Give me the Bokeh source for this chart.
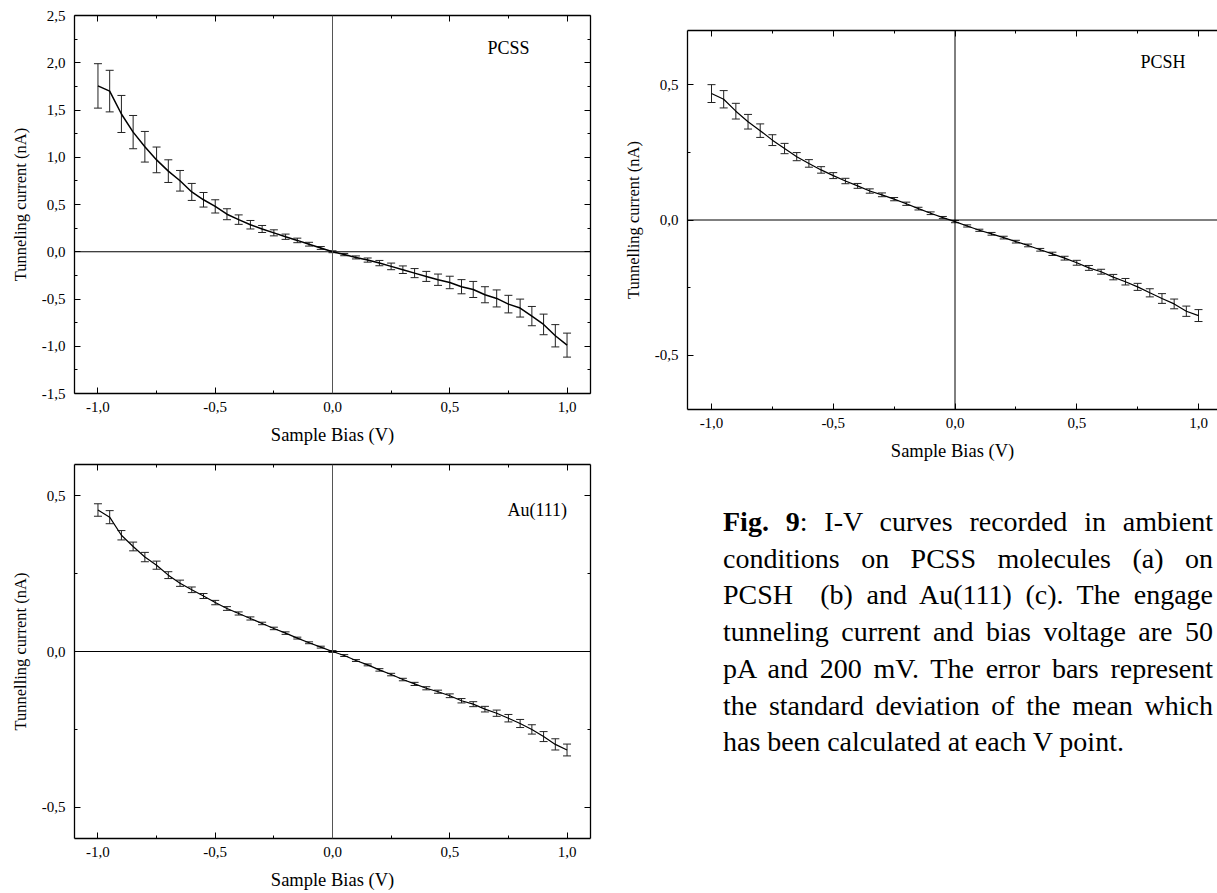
from bokeh.plotting import figure
from bokeh.models import (Range1d, FixedTicker, LinearAxis, Span, Whisker, ColumnDataSource,
                          CustomJSTickFormatter, Label, Div, Spacer, TeeHead)
from bokeh.layouts import column, row
from bokeh.embed import file_html
from bokeh.resources import INLINE

# ---------------- data ----------------
bias = [-1.0, -0.95, -0.9, -0.85, -0.8, -0.75, -0.7, -0.65, -0.6, -0.55, -0.5,
        -0.45, -0.4, -0.35, -0.3, -0.25, -0.2, -0.15, -0.1, -0.05, 0.0,
        0.05, 0.1, 0.15, 0.2, 0.25, 0.3, 0.35, 0.4, 0.45, 0.5,
        0.55, 0.6, 0.65, 0.7, 0.75, 0.8, 0.85, 0.9, 0.95, 1.0]

pcss_current = [1.755, 1.70, 1.458, 1.266, 1.111, 0.972, 0.853, 0.751, 0.633, 0.550, 0.480,
                0.397, 0.340, 0.286, 0.241, 0.200, 0.159, 0.120, 0.080, 0.040, 0.000,
                -0.030, -0.060, -0.088, -0.120, -0.155, -0.190, -0.226, -0.261, -0.296, -0.325,
                -0.370, -0.399, -0.455, -0.494, -0.554, -0.596, -0.681, -0.769, -0.889, -0.988]
pcss_err = [0.235, 0.220, 0.196, 0.176, 0.162, 0.136, 0.120, 0.109, 0.090, 0.077, 0.070,
            0.058, 0.050, 0.045, 0.037, 0.032, 0.028, 0.024, 0.020, 0.015, 0.010,
            0.012, 0.016, 0.022, 0.028, 0.035, 0.040, 0.048, 0.053, 0.060, 0.066,
            0.075, 0.085, 0.085, 0.090, 0.093, 0.095, 0.102, 0.109, 0.118, 0.127]

pcsh_current = [0.467, 0.446, 0.402, 0.363, 0.330, 0.295, 0.264, 0.234, 0.209, 0.185, 0.164,
                0.144, 0.126, 0.107, 0.093, 0.077, 0.060, 0.042, 0.025, 0.009, -0.006,
                -0.022, -0.038, -0.051, -0.065, -0.080, -0.094, -0.110, -0.125, -0.141, -0.158,
                -0.177, -0.191, -0.211, -0.228, -0.247, -0.269, -0.290, -0.310, -0.337, -0.353]
pcsh_err = [0.033, 0.032, 0.029, 0.027, 0.025, 0.020, 0.019, 0.015, 0.014, 0.012, 0.011,
            0.010, 0.009, 0.008, 0.007, 0.006, 0.006, 0.005, 0.005, 0.004, 0.004,
            0.004, 0.004, 0.005, 0.005, 0.005, 0.005, 0.005, 0.006, 0.007, 0.009,
            0.009, 0.009, 0.010, 0.012, 0.013, 0.015, 0.018, 0.018, 0.019, 0.022]

au_current = [0.454, 0.431, 0.373, 0.337, 0.303, 0.277, 0.245, 0.219, 0.198, 0.178, 0.157,
              0.138, 0.122, 0.106, 0.090, 0.074, 0.059, 0.043, 0.028, 0.014, 0.000,
              -0.013, -0.029, -0.043, -0.059, -0.074, -0.090, -0.104, -0.118, -0.129, -0.142,
              -0.158, -0.169, -0.185, -0.198, -0.214, -0.231, -0.250, -0.273, -0.298, -0.316]
au_err = [0.020, 0.021, 0.015, 0.014, 0.015, 0.013, 0.011, 0.010, 0.009, 0.008, 0.007,
          0.006, 0.005, 0.005, 0.004, 0.004, 0.004, 0.003, 0.003, 0.003, 0.003,
          0.003, 0.003, 0.003, 0.004, 0.004, 0.004, 0.005, 0.005, 0.005, 0.006,
          0.007, 0.008, 0.009, 0.010, 0.012, 0.013, 0.015, 0.016, 0.018, 0.019]

x_ticks = [-1.0, -0.5, 0.0, 0.5, 1.0]
x_minor = [-0.75, -0.25, 0.25, 0.75]
pcss_y_ticks = [-1.5, -1.0, -0.5, 0.0, 0.5, 1.0, 1.5, 2.0, 2.5]
pcss_y_minor = [-1.25, -0.75, -0.25, 0.25, 0.75, 1.25, 1.75, 2.25]
small_y_ticks = [-0.5, 0.0, 0.5]
small_y_minor = [-0.25, 0.25]

x_label = "Sample Bias (V)"
caption_lines = [
    "<b>Fig. 9</b>: I-V curves recorded in ambient",
    "conditions on PCSS molecules (a) on",
    "PCSH&nbsp; (b) and Au(111) (c). The engage",
    "tunneling current and bias voltage are 50",
    "pA and 200 mV. The error bars represent",
    "the standard deviation of the mean which",
    "has been calculated at each V point.",
]

FONT = "Liberation Serif"
comma_fmt = "return tick.toFixed(1).replace('.', ',');"
blank_fmt = "return '';"


def style_axis(ax, ticker, labels=True, tick_size="15px"):
    ax.ticker = ticker
    ax.formatter = CustomJSTickFormatter(code=comma_fmt if labels else blank_fmt)
    ax.axis_line_color = "black"
    ax.axis_line_width = 1.3
    ax.major_tick_line_color = "black"
    ax.minor_tick_line_color = "black"
    ax.major_tick_in = 6
    ax.major_tick_out = 0
    ax.minor_tick_in = 3
    ax.minor_tick_out = 0
    ax.major_label_text_font = FONT
    ax.major_label_text_font_size = tick_size
    ax.major_label_text_color = "black"
    ax.axis_label_text_font = FONT
    ax.axis_label_text_font_style = "normal"
    ax.axis_label_text_color = "black"


def make_panel(current, err, y_range, y_ticks, y_minor, y_label, tag, tag_pos,
               width, height, borders, right_axis=True, line_w=1.2, vcolor="#555555"):
    p = figure(width=width, height=height, output_backend="svg", toolbar_location=None,
               x_range=Range1d(*borders["xr"]), y_range=Range1d(*y_range),
               min_border_left=borders["l"], min_border_right=borders["r"],
               min_border_top=borders["t"], min_border_bottom=borders["b"])
    p.outline_line_color = None
    p.grid.visible = False
    p.background_fill_color = "white"
    p.border_fill_color = "white"

    xt = FixedTicker(ticks=x_ticks, minor_ticks=x_minor)
    yt = FixedTicker(ticks=y_ticks, minor_ticks=y_minor)

    style_axis(p.xaxis[0], xt)
    p.xaxis[0].axis_label = x_label
    p.xaxis[0].axis_label_text_font_size = "18.5px"
    p.xaxis[0].major_label_standoff = 8
    p.xaxis[0].axis_label_standoff = 10

    style_axis(p.yaxis[0], yt)
    p.yaxis[0].axis_label = y_label
    p.yaxis[0].axis_label_text_font_size = "16.5px"
    p.yaxis[0].major_label_standoff = 9
    p.yaxis[0].axis_label_standoff = 9

    top = LinearAxis()
    style_axis(top, FixedTicker(ticks=x_ticks, minor_ticks=x_minor), labels=False)
    top.major_label_standoff = 0
    p.add_layout(top, "above")
    if right_axis:
        rgt = LinearAxis()
        style_axis(rgt, FixedTicker(ticks=y_ticks, minor_ticks=y_minor), labels=False)
        rgt.major_label_standoff = 0
        p.add_layout(rgt, "right")

    p.add_layout(Span(location=0, dimension="width", line_color="black", line_width=1))
    p.add_layout(Span(location=0, dimension="height", line_color=vcolor, line_width=1))

    lower = [c - e for c, e in zip(current, err)]
    upper = [c + e for c, e in zip(current, err)]
    src = ColumnDataSource(dict(x=bias, y=current, lo=lower, hi=upper))
    p.add_layout(Whisker(source=src, base="x", lower="lo", upper="hi",
                         line_color="#222222", line_width=1,
                         lower_head=TeeHead(size=8, line_color="#222222", line_width=1),
                         upper_head=TeeHead(size=8, line_color="#222222", line_width=1)))
    p.line("x", "y", source=src, line_color="black", line_width=line_w)

    p.add_layout(Label(x=tag_pos[0], y=tag_pos[1], text=tag, text_align="center",
                       text_baseline="middle", text_font=FONT, text_font_size="18px",
                       text_color="black"))
    return p


pa = make_panel(pcss_current, pcss_err, (-1.5, 2.5), pcss_y_ticks, pcss_y_minor,
                "Tunneling current (nA)", "PCSS", (0.75, 2.16),
                600, 450, dict(xr=(-1.1, 1.1), l=74, r=10, t=15, b=57), line_w=1.5)

pc = make_panel(au_current, au_err, (-0.6, 0.6), small_y_ticks, small_y_minor,
                "Tunnelling current (nA)", "Au(111)", (0.873, 0.455),
                600, 443, dict(xr=(-1.1, 1.1), l=68, r=8, t=14, b=55))

pb = make_panel(pcsh_current, pcsh_err, (-0.7, 0.7), small_y_ticks, small_y_minor,
                "Tunnelling current (nA)", "PCSH", (0.854, 0.585),
                617, 470, dict(xr=(-1.0986, 1.078), l=87, r=0, t=30, b=61),
                right_axis=False, vcolor="black")

line_html = "".join(
    f'<div style="width:490px;text-align:justify;text-align-last:'
    f'{"justify" if i < len(caption_lines) - 1 else "left"};">{t}</div>'
    for i, t in enumerate(caption_lines))
caption = Div(text=f'<div style="width:490px;">{line_html}</div>', width=490,
              styles={"font-family": FONT, "font-size": "28px", "line-height": "36.7px",
                      "color": "black"})

layout = row(column(pa, pc),
             column(pb, Spacer(height=29), row(Spacer(width=118), caption)))

open("out.html", "w").write(file_html(layout, INLINE))
